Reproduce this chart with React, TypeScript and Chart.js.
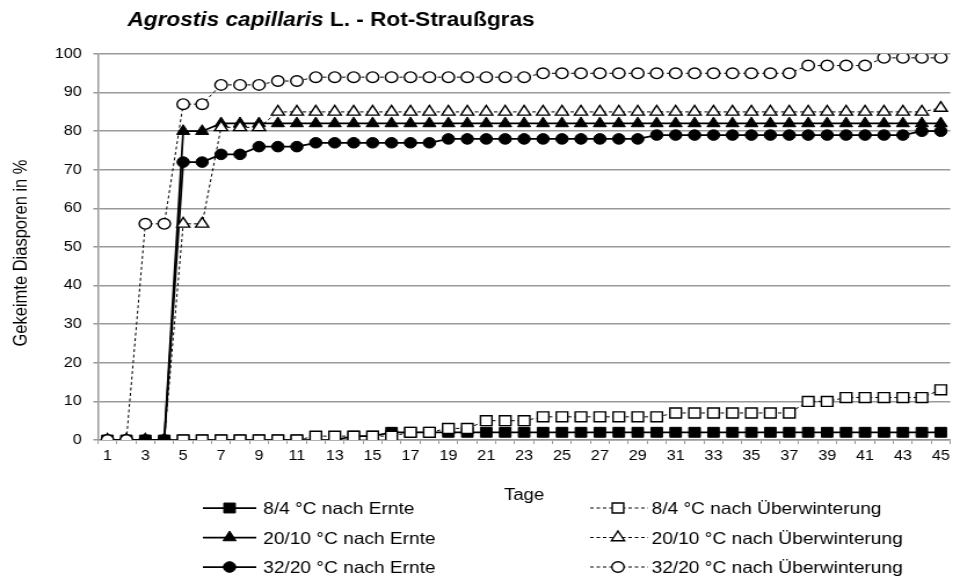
import React, { useEffect, useRef } from 'react';
import { Chart, registerables } from 'chart.js';

Chart.register(...registerables);

// ---- data ----
const days = [
  '1', '2', '3', '4', '5', '6', '7', '8', '9', '10',
  '11', '12', '13', '14', '15', '16', '17', '18', '19', '20',
  '21', '22', '23', '24', '25', '26', '27', '28', '29', '30',
  '31', '32', '33', '34', '35', '36', '37', '38', '39', '40',
  '41', '42', '43', '44', '45',
];

const e84 = [0, 0, 0, 0, 0, 0, 0, 0, 0, 0, 0, 0, 0, 1, 1, 2, 2, 2, 2, 2, 2, 2, 2, 2, 2, 2, 2, 2, 2, 2, 2, 2, 2, 2, 2, 2, 2, 2, 2, 2, 2, 2, 2, 2, 2];
const u84 = [null, null, null, null, 0, 0, 0, 0, 0, 0, 0, 1, 1, 1, 1, 1, 2, 2, 3, 3, 5, 5, 5, 6, 6, 6, 6, 6, 6, 6, 7, 7, 7, 7, 7, 7, 7, 10, 10, 11, 11, 11, 11, 11, 13];
const e2010 = [0, 0, 0, 0, 80, 80, 82, 82, 82, 82, 82, 82, 82, 82, 82, 82, 82, 82, 82, 82, 82, 82, 82, 82, 82, 82, 82, 82, 82, 82, 82, 82, 82, 82, 82, 82, 82, 82, 82, 82, 82, 82, 82, 82, 82];
const u2010 = [0, 0, 0, 0, 56, 56, 81, 81, 81, 85, 85, 85, 85, 85, 85, 85, 85, 85, 85, 85, 85, 85, 85, 85, 85, 85, 85, 85, 85, 85, 85, 85, 85, 85, 85, 85, 85, 85, 85, 85, 85, 85, 85, 85, 86];
const e3220 = [0, 0, 0, 0, 72, 72, 74, 74, 76, 76, 76, 77, 77, 77, 77, 77, 77, 77, 78, 78, 78, 78, 78, 78, 78, 78, 78, 78, 78, 79, 79, 79, 79, 79, 79, 79, 79, 79, 79, 79, 79, 79, 79, 80, 80];
const u3220 = [0, 0, 56, 56, 87, 87, 92, 92, 92, 93, 93, 94, 94, 94, 94, 94, 94, 94, 94, 94, 94, 94, 94, 95, 95, 95, 95, 95, 95, 95, 95, 95, 95, 95, 95, 95, 95, 97, 97, 97, 97, 99, 99, 99, 99];

const seriesLabels = [
  '8/4 °C nach Ernte',
  '8/4 °C nach Überwinterung',
  '20/10 °C nach Ernte',
  '20/10 °C nach Überwinterung',
  '32/20 °C nach Ernte',
  '32/20 °C nach Überwinterung',
];
const titleItalic = 'Agrostis capillaris';
const titleRest = ' L. - Rot-Straußgras';
const yTitle = 'Gekeimte Diasporen in %';
const xTitle = 'Tage';
const yTicks = [0, 10, 20, 30, 40, 50, 60, 70, 80, 90, 100];

// ---- layout ----
const BASE_W = 828;
const H = 578;
const SX = 960 / BASE_W;
const FONT = "'Liberation Sans', Arial, sans-serif";

type Shape = 'rect' | 'triangle' | 'circle';

const markerRadius: Record<Shape, number> = { rect: 7, triangle: 6.5, circle: 5.3 };

function mkSet(label: string, data: (number | null)[], shape: Shape, filled: boolean, dashed: boolean, order: number) {
  return {
    label,
    data,
    order,
    borderColor: '#000',
    borderWidth: dashed ? 1 : 1.75,
    borderDash: dashed ? [3, 2.5] : [],
    pointStyle: shape,
    pointRadius: markerRadius[shape],
    pointHoverRadius: markerRadius[shape],
    pointBackgroundColor: filled ? '#000' : '#fff',
    pointBorderColor: '#000',
    pointBorderWidth: filled ? 1 : 1.4,
    tension: 0,
    fill: false,
    spanGaps: false,
    _shape: shape,
    _filled: filled,
    _dashed: dashed,
  } as any;
}

function drawMarker(ctx: CanvasRenderingContext2D, shape: Shape, filled: boolean, x: number, y: number) {
  const r = markerRadius[shape];
  ctx.save();
  ctx.setLineDash([]);
  ctx.beginPath();
  if (shape === 'rect') {
    const s = r * Math.SQRT1_2;
    ctx.rect(x - s, y - s, 2 * s, 2 * s);
  } else if (shape === 'triangle') {
    let a = 0;
    ctx.moveTo(x + Math.sin(a) * r, y - Math.cos(a) * r);
    a += (2 * Math.PI) / 3;
    ctx.lineTo(x + Math.sin(a) * r, y - Math.cos(a) * r);
    a += (2 * Math.PI) / 3;
    ctx.lineTo(x + Math.sin(a) * r, y - Math.cos(a) * r);
    ctx.closePath();
  } else {
    ctx.arc(x, y, r, 0, Math.PI * 2);
  }
  ctx.fillStyle = filled ? '#000' : '#fff';
  ctx.fill();
  ctx.lineWidth = filled ? 1 : 1.4;
  ctx.strokeStyle = '#000';
  ctx.stroke();
  ctx.restore();
}

const decorPlugin = {
  id: 'decor',
  afterDraw(chart: any) {
    const ctx: CanvasRenderingContext2D = chart.ctx;
    const area = chart.chartArea;
    ctx.save();
    ctx.fillStyle = '#000';
    // main title
    ctx.textBaseline = 'alphabetic';
    ctx.textAlign = 'left';
    ctx.font = `italic bold 19.5px ${FONT}`;
    const tx = 110;
    const ty = 26;
    ctx.fillText(titleItalic, tx, ty);
    const w1 = ctx.measureText(titleItalic).width;
    ctx.font = `bold 19.5px ${FONT}`;
    ctx.fillText(titleRest, tx + w1, ty);

    // y title
    ctx.save();
    ctx.translate(18, 253);
    ctx.rotate(-Math.PI / 2);
    ctx.font = `16.5px ${FONT}`;
    ctx.textAlign = 'center';
    ctx.textBaseline = 'middle';
    ctx.fillText(yTitle, 0, 0);
    ctx.restore();

    // x title
    ctx.font = `16px ${FONT}`;
    ctx.textAlign = 'center';
    ctx.textBaseline = 'alphabetic';
    ctx.fillText(xTitle, (area.left + area.right) / 2, 500);

    // legend
    const rows = [508, 537.5, 567];
    const cols = [
      { x0: 175, x1: 221, mx: 198, tx: 227 },
      { x0: 509, x1: 559, mx: 533, tx: 562 },
    ];
    chart.data.datasets.forEach((ds: any, i: number) => {
      const col = cols[i % 2];
      const y = rows[Math.floor(i / 2)];
      ctx.save();
      ctx.strokeStyle = '#000';
      ctx.lineWidth = ds._dashed ? 1 : 1.75;
      ctx.setLineDash(ds._dashed ? [3, 2.5] : []);
      ctx.beginPath();
      ctx.moveTo(col.x0, y);
      ctx.lineTo(col.x1, y);
      ctx.stroke();
      ctx.restore();
      drawMarker(ctx, ds._shape, ds._filled, col.mx, y);
      ctx.font = `16.5px ${FONT}`;
      ctx.textAlign = 'left';
      ctx.textBaseline = 'alphabetic';
      ctx.fillStyle = '#000';
      ctx.fillText(ds.label, col.tx, y + 6);
    });
    ctx.restore();
  },
};

export default function App() {
  const ref = useRef<HTMLCanvasElement>(null);
  useEffect(() => {
    document.body.style.margin = '0';
    const canvas = ref.current!;
    const chart = new Chart(canvas, {
      type: 'line',
      data: {
        labels: days,
        datasets: [
          mkSet(seriesLabels[0], e84, 'rect', true, false, 2),
          mkSet(seriesLabels[1], u84, 'rect', false, true, 1),
          mkSet(seriesLabels[2], e2010, 'triangle', true, false, 5),
          mkSet(seriesLabels[3], u2010, 'triangle', false, true, 3),
          mkSet(seriesLabels[4], e3220, 'circle', true, false, 4),
          mkSet(seriesLabels[5], u3220, 'circle', false, true, 0),
        ],
      },
      options: {
        responsive: false,
        animation: false,
        devicePixelRatio: 1,
        layout: { padding: { top: 54, right: 7, bottom: 108, left: 0 } },
        plugins: {
          legend: { display: false },
          title: { display: false },
          tooltip: { enabled: false },
        },
        scales: {
          x: {
            type: 'category',
            offset: true,
            grid: {
              display: true,
              drawOnChartArea: false,
              drawTicks: true,
              tickLength: 4,
              offset: true,
              color: '#999',
              lineWidth: 1,
            },
            border: { display: true, color: '#999', width: 1.5 },
            ticks: {
              autoSkip: false,
              maxRotation: 0,
              minRotation: 0,
              padding: 4,
              color: '#000',
              font: { family: FONT, size: 14 },
              callback: (_v: any, i: number) => (i % 2 === 0 ? days[i] : ''),
            },
            afterFit: (s: any) => {
              s.height = 30;
            },
          },
          y: {
            min: yTicks[0],
            max: yTicks[yTicks.length - 1],
            ticks: {
              stepSize: 10,
              padding: 10,
              color: '#000',
              font: { family: FONT, size: 14 },
            },
            grid: { color: '#999', lineWidth: 1.5, tickLength: 4, drawTicks: true },
            border: { display: true, color: '#999', width: 1.5 },
            afterFit: (s: any) => {
              s.width = 84.5;
            },
          },
        },
      },
      plugins: [decorPlugin],
    });
    return () => chart.destroy();
  }, []);

  return (
    <div
      style={{
        position: 'absolute',
        left: 0,
        top: 0,
        width: BASE_W,
        height: H,
        transform: `scaleX(${SX})`,
        transformOrigin: '0 0',
      }}
    >
      <canvas ref={ref} width={BASE_W} height={H} />
    </div>
  );
}
